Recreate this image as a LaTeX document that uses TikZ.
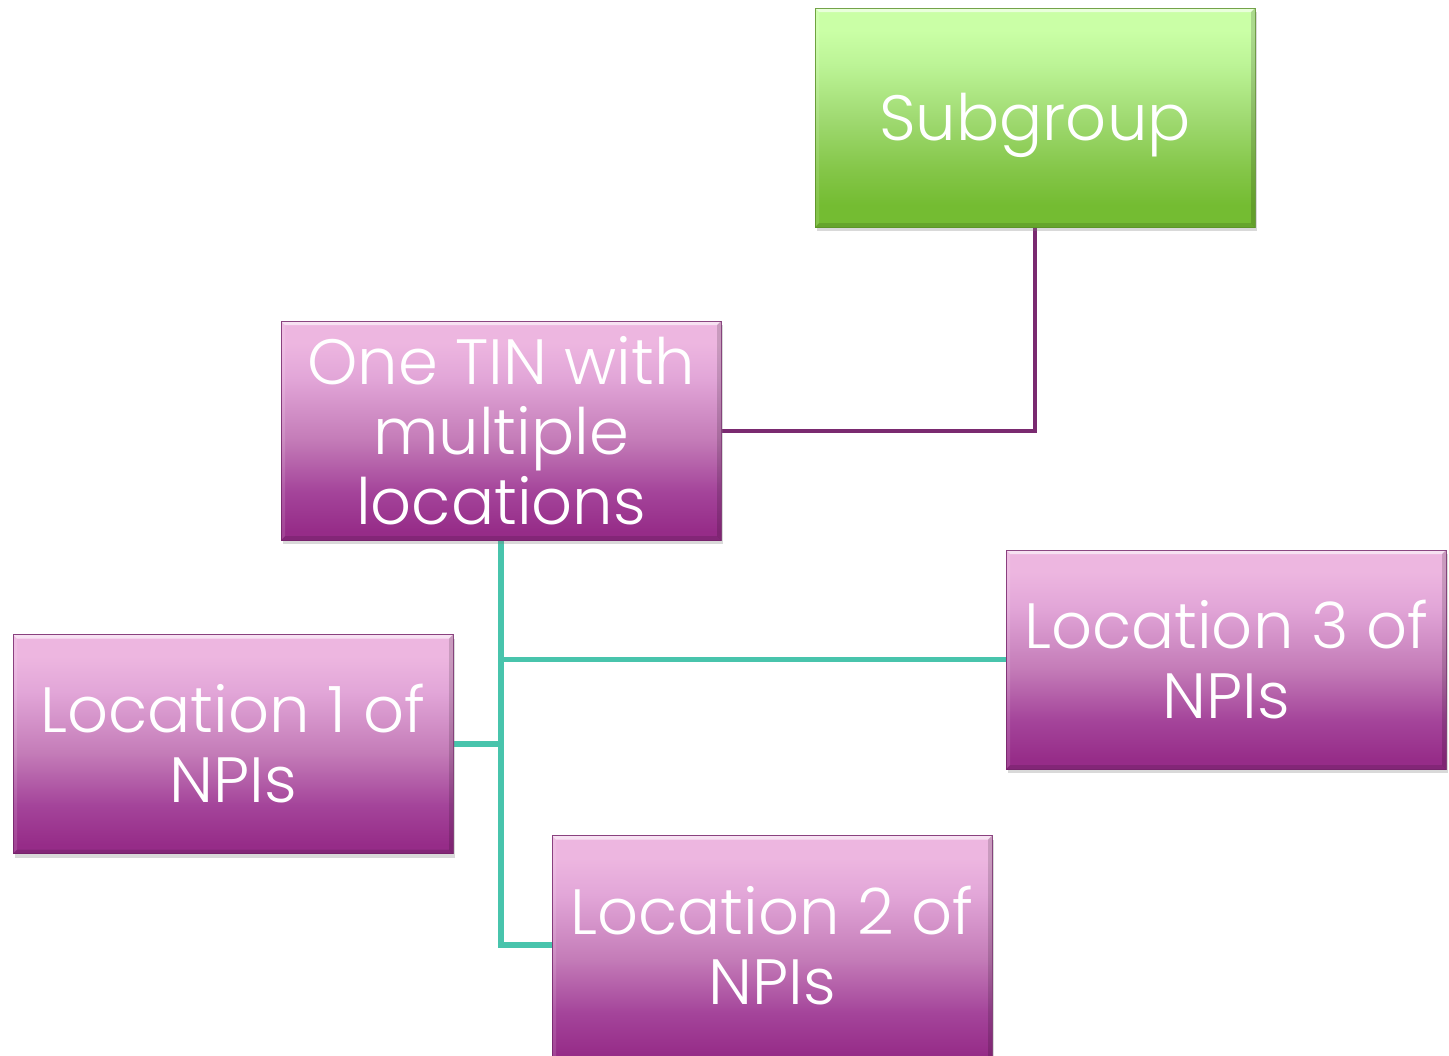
\documentclass[tikz,border=0pt]{standalone}
\usepackage{fontspec}
\setmainfont{Poppins}[UprightFont=* Light]
\usetikzlibrary{shadows,backgrounds}

\definecolor{pinkA}{HTML}{EDB6E0}
\definecolor{pinkB}{HTML}{E2A6D8}
\definecolor{pinkM}{HTML}{C47CB8}
\definecolor{pinkD}{HTML}{A4449A}
\definecolor{pinkC}{HTML}{962C88}
\definecolor{greenA}{HTML}{CAFFA6}
\definecolor{greenB}{HTML}{BCF496}
\definecolor{greenM}{HTML}{A0DA72}
\definecolor{greenD}{HTML}{84C648}
\definecolor{greenC}{HTML}{74BC32}
\definecolor{tealline}{HTML}{48C4AC}
\definecolor{plumline}{HTML}{7A2A70}

% the shaded box spans 25bp (bottom) to 75bp (top)
\pgfdeclareverticalshading{pinkshade}{100bp}{
  color(0bp)=(pinkC); color(27bp)=(pinkC); color(36bp)=(pinkD); color(48bp)=(pinkM);
  color(62bp)=(pinkB); color(70bp)=(pinkA); color(100bp)=(pinkA)}
\pgfdeclareverticalshading{greenshade}{100bp}{
  color(0bp)=(greenC); color(30bp)=(greenC); color(38bp)=(greenD); color(50bp)=(greenM);
  color(62bp)=(greenB); color(70bp)=(greenA); color(100bp)=(greenA)}

\tikzset{
  box/.style={rectangle, minimum width=220pt, minimum height=109.5pt,
    inner sep=0pt, align=center, text=white, font=\fontsize{32}{35}\selectfont,
    draw=#1!75!black, draw opacity=0.8, line width=0.5pt,
    drop shadow={opacity=0.3, shadow xshift=1pt, shadow yshift=-2.2pt},
    path picture={
      \fill[white, opacity=0.6] (path picture bounding box.north west) -- (path picture bounding box.north east)
        -- ([xshift=-2pt,yshift=-2pt]path picture bounding box.north east) -- ([xshift=2pt,yshift=-2pt]path picture bounding box.north west) -- cycle;
      \fill[black, opacity=0.12] (path picture bounding box.south west) -- (path picture bounding box.south east)
        -- ([xshift=-2pt,yshift=2pt]path picture bounding box.south east) -- ([xshift=2pt,yshift=2pt]path picture bounding box.south west) -- cycle;
      \fill[black, opacity=0.15] (path picture bounding box.north east) -- (path picture bounding box.south east)
        -- ([xshift=-2pt,yshift=2pt]path picture bounding box.south east) -- ([xshift=-2pt,yshift=-2pt]path picture bounding box.north east) -- cycle;
      \fill[white, opacity=0.12] (path picture bounding box.north west) -- (path picture bounding box.south west)
        -- ([xshift=2pt,yshift=2pt]path picture bounding box.south west) -- ([xshift=2pt,yshift=-2pt]path picture bounding box.north west) -- cycle;
    }},
  pinkbox/.style={box=pinkC, shading=pinkshade},
  greenbox/.style={box=greenC, shading=greenshade},
  tealwire/.style={draw=tealline, line width=2.6pt},
  plumwire/.style={draw=plumline, line width=2pt}
}

\begin{document}
\begin{tikzpicture}[x=0.5pt, y=-0.5pt]
  \useasboundingbox (0,0) rectangle (1449,1055);
  \clip (0,0) rectangle (1449,1055);

  % boxes
  \node[greenbox] (sub) at (1035,117.5) {\raisebox{-11.5pt}[0pt][0pt]{Subgroup}};
  \node[pinkbox]  (tin) at (501,430.5) {One TIN with\\multiple\\locations};
  \node[pinkbox]  (loc1) at (233,744) {Location 1 of\\NPIs};
  \node[pinkbox]  (loc3) at (1226,659.5) {Location 3 of\\NPIs};
  % this box runs past the lower edge of the page
  \node[pinkbox, minimum height=114pt] (loc2) at (772,949.5) {Location 2 of\\NPIs\rule[-4.5pt]{0pt}{4.5pt}};

  % connectors behind the boxes
  \begin{pgfonlayer}{background}
    \draw[plumwire] (sub.south) |- (tin.east);
    \draw[tealwire] (tin.south) |- ([yshift=2.25pt]loc2.west);
    \draw[tealwire] (tin.south |- loc3.west) -- (loc3.west);
    \draw[tealwire] (tin.south |- loc1.east) -- (loc1.east);
  \end{pgfonlayer}
\end{tikzpicture}
\end{document}
